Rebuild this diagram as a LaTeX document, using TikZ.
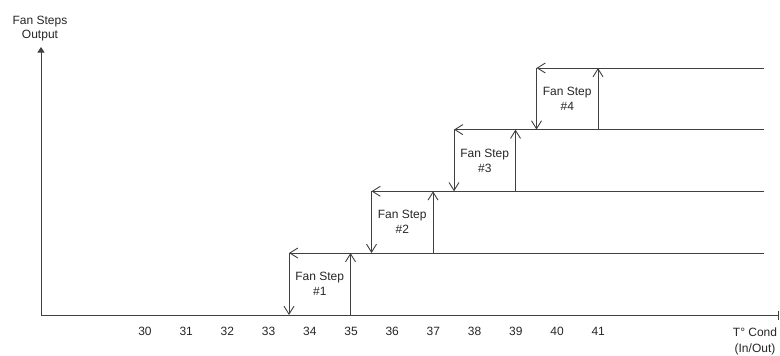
\documentclass[tikz,border=0pt]{standalone}
\usepackage{fontspec}
\setmainfont{Liberation Sans}
\usetikzlibrary{arrows.meta}
\begin{document}
\begin{tikzpicture}[x=1pt,y=-1pt,
  line/.style={draw=black!75, line width=0.9pt},
  barb/.style={-{Straight Barb[length=8pt,width=10pt]}},
  lbl/.style={font=\fontsize{12}{15}\selectfont, inner sep=0pt, text=black!85, align=center}]
\useasboundingbox (0,0) rectangle (780,356);
% axes
\coordinate (o) at (41,315);
\coordinate (ytop) at (41,47);
\coordinate (xend) at (779,315);
\draw[line, -{Triangle[length=5.5pt,width=7pt]}] (o) -- (ytop);
\draw[line, -{Bar[width=9pt]}] (o) -- (xend);
\node[lbl, font=\fontsize{12}{14}\selectfont] (ylab) at (40,29) {Fan Steps\\Output};
\node[lbl, font=\fontsize{12}{16}\selectfont] (xlab) at (755,341) {T° Cond\\(In/Out)};
% ticks
\foreach \t in {30,...,41}
  \node[lbl] (t\t) at ({145+41.2*(\t-30)},331) {\t};
% steps
\foreach \i/\yt/\yb/\xl/\xr in {1/253/315/289/350.5, 2/191.3/253/371.5/433, 3/129.6/191.3/454/515.5, 4/68/129.6/536.5/598}{
  \coordinate (tl\i) at (\xl,\yt);
  \coordinate (te\i) at (764,\yt);
  \coordinate (bl\i) at (\xl,\yb);
  \coordinate (br\i) at (\xr,\yb);
  \coordinate (tr\i) at (\xr,\yt);
  \draw[line, barb] (te\i) -- (tl\i);
  \draw[line, barb] (tl\i) -- (bl\i);
  \draw[line, barb] (br\i) -- (tr\i);
  \node[lbl] (s\i) at ({(\xl+\xr)/2},{(\yt+\yb)/2}) {Fan Step\\\#\i};
}
\end{tikzpicture}
\end{document}
